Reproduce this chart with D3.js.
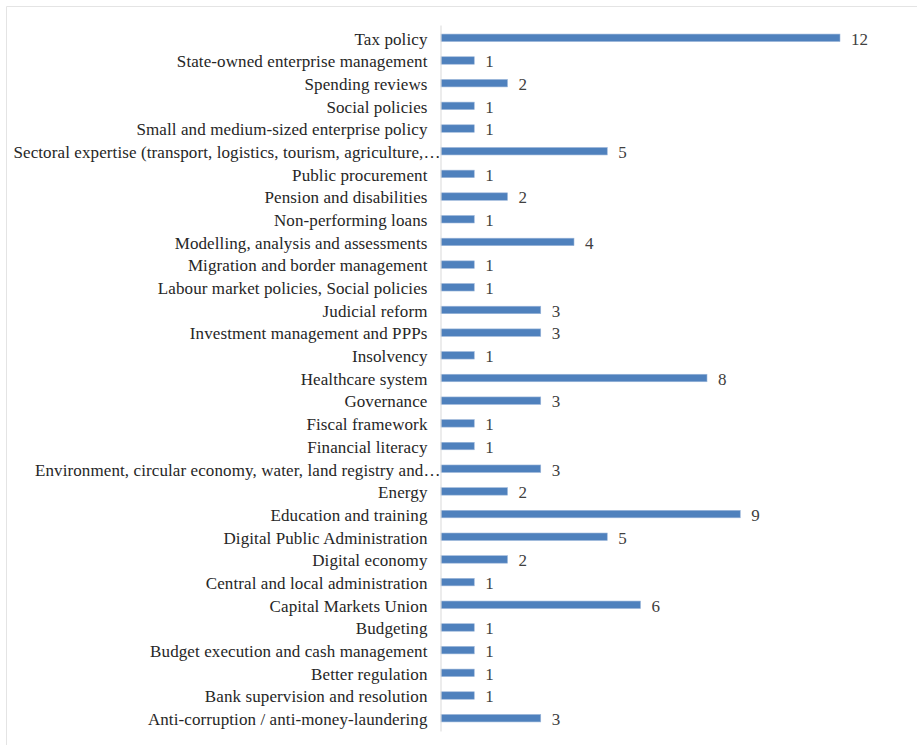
<!DOCTYPE html>
<html>
<head>
<meta charset="utf-8">
<script src="https://cdn.jsdelivr.net/npm/d3@7"></script>
<style>
  html, body { margin: 0; padding: 0; background: #fff; }
  svg { display: block; }
</style>
</head>
<body>
<svg id="chart" width="917" height="745"></svg>
<script>
const categories = [
  "Tax policy",
  "State-owned enterprise management",
  "Spending reviews",
  "Social policies",
  "Small and medium-sized enterprise policy",
  "Sectoral expertise (transport, logistics, tourism, agriculture,…",
  "Public procurement",
  "Pension and disabilities",
  "Non-performing loans",
  "Modelling, analysis and assessments",
  "Migration and border management",
  "Labour market policies, Social policies",
  "Judicial reform",
  "Investment management and PPPs",
  "Insolvency",
  "Healthcare system",
  "Governance",
  "Fiscal framework",
  "Financial literacy",
  "Environment, circular economy, water, land registry and…",
  "Energy",
  "Education and training",
  "Digital Public Administration",
  "Digital economy",
  "Central and local administration",
  "Capital Markets Union",
  "Budgeting",
  "Budget execution and cash management",
  "Better regulation",
  "Bank supervision and resolution",
  "Anti-corruption / anti-money-laundering"
];
const values = [12, 1, 2, 1, 1, 5, 1, 2, 1, 4, 1, 1, 3, 3, 1, 8, 3, 1, 1, 3, 2, 9, 5, 2, 1, 6, 1, 1, 1, 1, 3];

const data = categories.map((c, i) => ({ category: c, value: values[i] }));

const svg = d3.select("#chart");
const font = "'Liberation Serif', 'Times New Roman', serif";

// frame (top and left light border)
svg.append("line").attr("x1", 6.5).attr("x2", 917).attr("y1", 6.5).attr("y2", 6.5)
  .attr("stroke", "#e4e4e4").attr("stroke-width", 1);
svg.append("line").attr("x1", 6.5).attr("x2", 6.5).attr("y1", 6.5).attr("y2", 745)
  .attr("stroke", "#e4e4e4").attr("stroke-width", 1);

const x = d3.scaleLinear().domain([0, 12]).range([441, 840]);
const y = d3.scaleBand().domain(categories).range([25, 731]).paddingInner(0.67).paddingOuter(0.4);

// bars
svg.append("g").selectAll("rect").data(data).join("rect")
  .attr("x", x(0))
  .attr("y", d => y(d.category))
  .attr("width", d => x(d.value) - x(0))
  .attr("height", y.bandwidth())
  .attr("fill", "#4F81BD")
  .attr("stroke", "#9db7da")
  .attr("stroke-width", 0.6);

// axis line
const yAxis = d3.axisLeft(y).tickSize(0).tickPadding(13);
const gAxis = svg.append("g").attr("transform", `translate(${x(0) - 0.5},0)`).call(yAxis);
gAxis.attr("font-family", font).attr("font-size", 17);
gAxis.select(".domain").attr("stroke", "#d9d9d9").attr("stroke-width", 1);
gAxis.selectAll(".tick text")
  .attr("font-family", font)
  .attr("font-size", 17)
  .attr("letter-spacing", 0.1)
  .attr("dy", "0.4em")
  .attr("fill", "#262626")
  .each(function(d) {
    if (d.endsWith("…")) {
      d3.select(this).attr("x", 0);
    }
  });

// value labels
svg.append("g").selectAll("text").data(data).join("text")
  .attr("x", d => x(d.value) + 11)
  .attr("y", d => y(d.category) + y.bandwidth() / 2)
  .attr("dy", "0.4em")
  .attr("font-family", font)
  .attr("font-size", 17)
  .attr("fill", "#404040")
  .text(d => d.value);
</script>
</body>
</html>
